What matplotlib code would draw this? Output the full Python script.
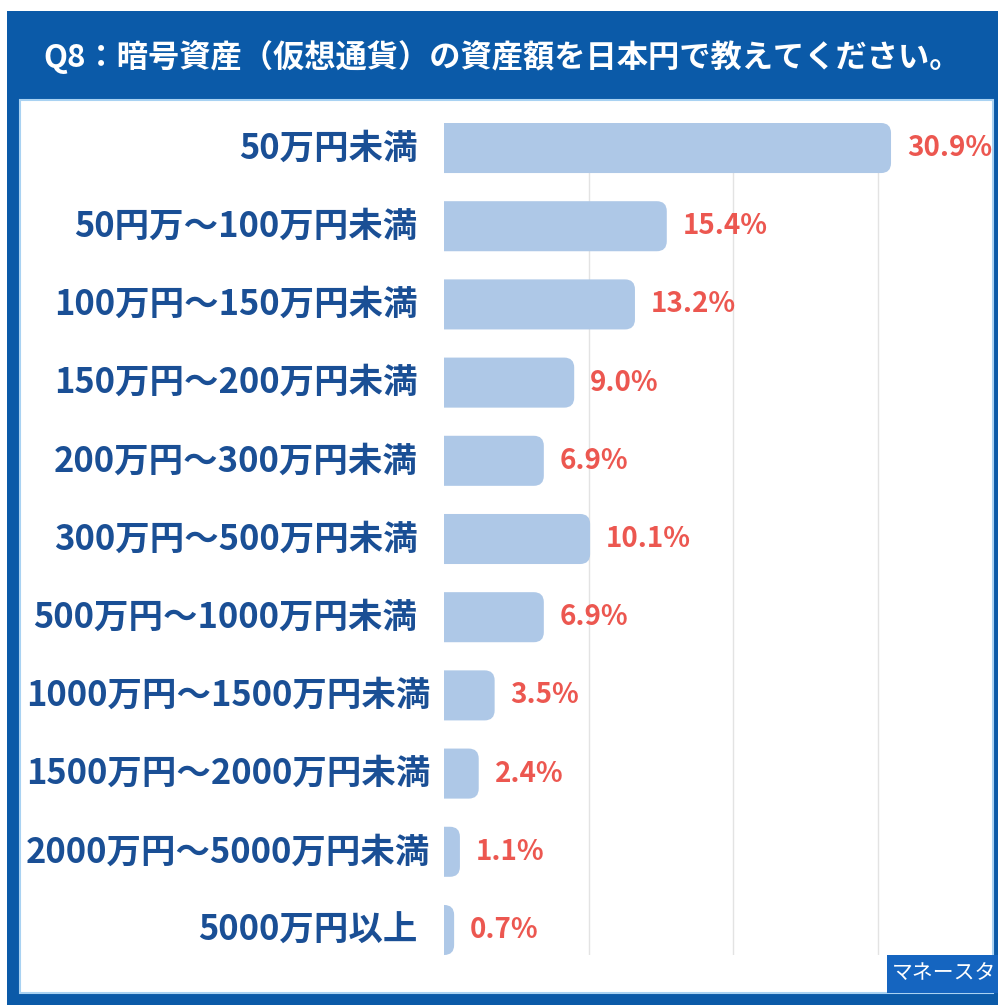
import matplotlib.pyplot as plt
from matplotlib.patches import FancyBboxPatch, Rectangle

plt.rcParams['font.family'] = ['Noto Sans CJK JP', 'DejaVu Sans']

# 暗号資産の資産額（日本円）
categories = ['50万円未満', '50円万～100万円未満', '100万円～150万円未満', '150万円～200万円未満',
              '200万円～300万円未満', '300万円～500万円未満', '500万円～1000万円未満',
              '1000万円～1500万円未満', '1500万円～2000万円未満', '2000万円～5000万円未満',
              '5000万円以上']
values = [30.9, 15.4, 13.2, 9.0, 6.9, 10.1, 6.9, 3.5, 2.4, 1.1, 0.7]
title = 'Q8：暗号資産（仮想通貨）の資産額を日本円で教えてください。'

W, H = 998, 1005
fig = plt.figure(figsize=(W / 100, H / 100), dpi=100)
fig.patch.set_facecolor('white')

blue = '#0b5aa8'
# frame: blue header + body, white inner panel
fig.patches.append(Rectangle((7 / W, 0), 1 - 7 / W, 1 - 11 / H, transform=fig.transFigure,
                             facecolor=blue, edgecolor='none', zorder=0))
fig.patches.append(Rectangle((20 / W, 12 / H), 973 / W, (H - 100 - 12) / H, transform=fig.transFigure,
                             facecolor='white', edgecolor='#a9d2f2', linewidth=1.5, zorder=0.5))
fig.text(502 / W, 1 - 57 / H, title, color='white', fontsize=22.5, fontweight='bold',
         ha='center', va='center')

# axes: x scale 0% at px 444, 30% at px 878
left_px, right_px = 444, 990
px_per_unit = (878 - 444) / 30
xmax = (right_px - left_px) / px_per_unit
top_px, bot_px = 123, 955
ax = fig.add_axes([left_px / W, 1 - bot_px / H, (right_px - left_px) / W, (bot_px - top_px) / H])
ax.set_zorder(2)
ax.set_xlim(0, xmax)
ax.set_ylim(len(values) - 1 + 0.32, -0.32)
ax.patch.set_alpha(0)
for s in ax.spines.values():
    s.set_visible(False)
ax.set_xticks([10, 20, 30])
ax.tick_params(axis='x', length=0, labelbottom=False)
ax.set_yticks([])
ax.grid(axis='x', color='#e3e3e3', linewidth=1)
ax.set_axisbelow(True)

bar_h = 0.64
py_per_unit = (bot_px - top_px) / (len(values) - 1 + 0.64)
aspect = px_per_unit / py_per_unit
r = 10 / px_per_unit
for i, v in enumerate(values):
    p = FancyBboxPatch((-r * 2, i - bar_h / 2), v + r * 2, bar_h,
                       boxstyle=f'round,pad=0,rounding_size={r}', mutation_aspect=aspect,
                       facecolor='#aec8e7', edgecolor='none', zorder=2)
    ax.add_patch(p)
    ax.annotate(f'{v:.1f}%', (v, i), xytext=(11.5, 0), textcoords='offset points',
                ha='left', va='center', color='#ec5750', fontsize=20, fontweight='bold')

# category labels (the longest ones sit a little closer to the bars)
for i, lab in enumerate(categories):
    off = -10 if len(lab) >= 15 else -19
    ax.annotate(lab, (0, i), xytext=(off, 0), textcoords='offset points', annotation_clip=False,
                ha='right', va='center', fontsize=24.8, fontweight='bold', color='#1a4f95')

# logo (cut off at the right edge as in the original)
logo = Rectangle((887 / W, 12 / H), 111 / W, 38 / H, transform=fig.transFigure,
                 facecolor='#1565c0', edgecolor='none', zorder=3)
fig.patches.append(logo)
fig.text(892 / W, 31 / H, 'マネースタ', color='white', fontsize=15, style='italic',
         ha='left', va='center', zorder=4)

fig.savefig('out.png', dpi=100)
